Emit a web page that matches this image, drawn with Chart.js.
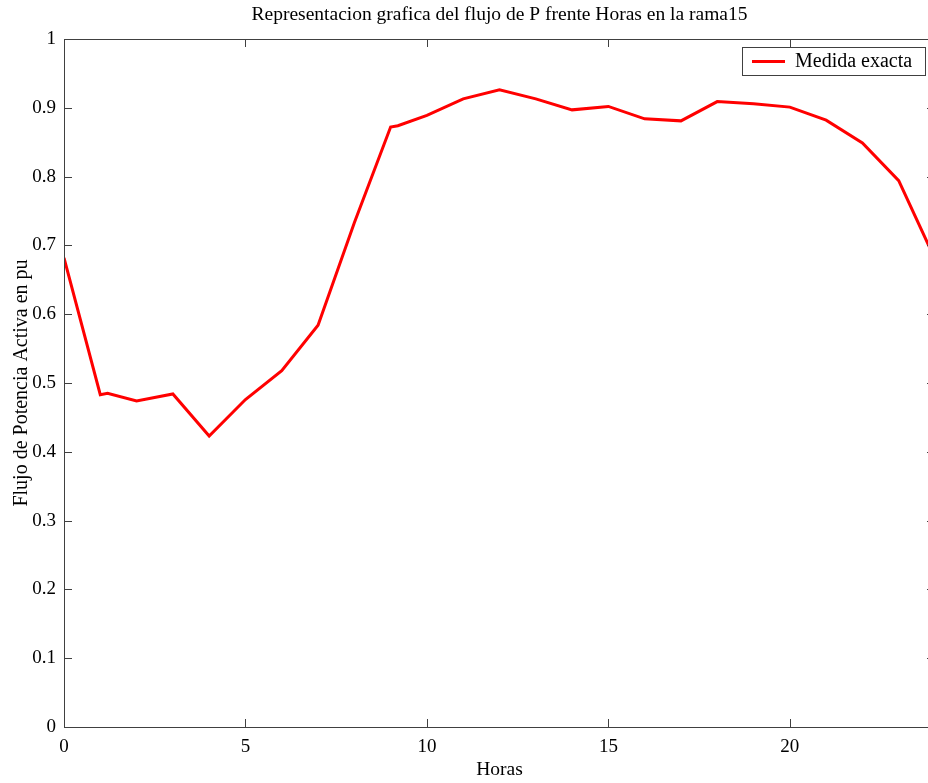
<!DOCTYPE html>
<html>
<head>
<meta charset="utf-8">
<script src="https://cdn.jsdelivr.net/npm/chart.js@4/dist/chart.umd.min.js"></script>
<style>
  html, body { margin: 0; padding: 0; background: #fff; overflow: hidden; width: 928px; height: 783px; }
  #wrap { width: 945px; height: 783px; }
</style>
</head>
<body>
<div id="wrap"><canvas id="c" width="945" height="783"></canvas></div>
<script>
const hours = [0, 1, 1.2, 2, 3, 4, 5, 6, 7, 8, 9, 9.2, 10, 11, 12, 13, 14, 15, 16, 17, 18, 19, 20, 21, 22, 23, 24];
const flujoP = [0.682, 0.483, 0.485, 0.474, 0.484, 0.423, 0.476, 0.518, 0.584, 0.733, 0.872, 0.874, 0.889, 0.913, 0.926, 0.913, 0.897, 0.902, 0.884, 0.881, 0.909, 0.906, 0.901, 0.882, 0.849, 0.794, 0.680];
const xTicks = [0, 5, 10, 15, 20];
const yTicks = [0, 0.1, 0.2, 0.3, 0.4, 0.5, 0.6, 0.7, 0.8, 0.9, 1];
const seriesLabel = 'Medida exacta';
const titleText = 'Representacion grafica del flujo de P frente Horas en la rama15';
const xTitle = 'Horas';
const yTitle = 'Flujo de Potencia Activa en pu';

const FONT = "'Liberation Serif', 'Times New Roman', serif";
const AXIS = '#404040';

const boxPlugin = {
  id: 'matlabBox',
  afterDraw(chart) {
    const ctx = chart.ctx;
    const a = chart.chartArea;
    const xs = chart.scales.x, ys = chart.scales.y;
    ctx.save();
    // title centred over the plot area
    ctx.fillStyle = '#000';
    ctx.font = '19.5px ' + FONT;
    ctx.textAlign = 'center';
    ctx.textBaseline = 'middle';
    ctx.fillText(titleText, (a.left + a.right) / 2, 15);

    ctx.strokeStyle = AXIS;
    ctx.lineWidth = 1;
    ctx.strokeRect(Math.round(a.left) + 0.5, Math.round(a.top) + 0.5, Math.round(a.right - a.left), Math.round(a.bottom - a.top));
    const L = 8;
    ctx.beginPath();
    xTicks.forEach(v => {
      const px = Math.round(xs.getPixelForValue(v)) + 0.5;
      ctx.moveTo(px, a.bottom); ctx.lineTo(px, a.bottom - L);
      ctx.moveTo(px, a.top); ctx.lineTo(px, a.top + L);
    });
    yTicks.forEach(v => {
      const py = Math.round(ys.getPixelForValue(v)) + 0.5;
      ctx.moveTo(a.left, py); ctx.lineTo(a.left + L, py);
      ctx.moveTo(a.right, py); ctx.lineTo(a.right - L, py);
    });
    ctx.stroke();
    // legend
    const ds = chart.data.datasets[0];
    const bx = 742, by = 47, bw = 183, bh = 28;
    ctx.fillStyle = '#fff';
    ctx.fillRect(bx, by, bw, bh);
    ctx.strokeStyle = AXIS;
    ctx.strokeRect(bx + 0.5, by + 0.5, bw, bh);
    ctx.strokeStyle = ds.borderColor;
    ctx.lineWidth = 3;
    ctx.beginPath();
    ctx.moveTo(752, by + bh / 2 + 0.5); ctx.lineTo(785, by + bh / 2 + 0.5);
    ctx.stroke();
    ctx.fillStyle = '#000';
    ctx.font = '20px ' + FONT;
    ctx.textAlign = 'left';
    ctx.textBaseline = 'middle';
    ctx.fillText(ds.label, 795, by + bh / 2 + 1);
    ctx.restore();
  }
};

new Chart(document.getElementById('c'), {
  type: 'line',
  data: {
    datasets: [{
      label: seriesLabel,
      data: hours.map((h, i) => ({ x: h, y: flujoP[i] })),
      borderColor: '#ff0000',
      borderWidth: 3,
      pointRadius: 0,
      tension: 0,
      fill: false
    }]
  },
  options: {
    responsive: false,
    animation: false,
    devicePixelRatio: 1,
    layout: { padding: { left: 0, right: 10, top: 39, bottom: 0 } },
    plugins: {
      legend: { display: false },
      tooltip: { enabled: false },
      title: { display: false }
    },
    scales: {
      x: {
        type: 'linear',
        min: 0, max: 24,
        afterBuildTicks(s) { s.ticks = xTicks.map(v => ({ value: v })); },
        afterFit(s) { s.height = 56; },
        grid: { display: false, drawTicks: false },
        border: { display: false },
        ticks: { color: '#000', font: { family: FONT, size: 19 }, padding: 9, maxRotation: 0,
                 callback: v => String(v) },
        title: { display: true, text: xTitle, color: '#000', font: { family: FONT, size: 19.5 }, padding: { top: 0, bottom: 1 } }
      },
      y: {
        type: 'linear',
        min: 0, max: 1,
        afterBuildTicks(s) { s.ticks = yTicks.map(v => ({ value: v })); },
        afterFit(s) { s.width = 64; },
        grid: { display: false, drawTicks: false },
        border: { display: false },
        ticks: { color: '#000', font: { family: FONT, size: 19 }, padding: 8,
                 callback: v => String(Number(v.toFixed(1))) },
        title: { display: true, text: yTitle, color: '#000', font: { family: FONT, size: 20 }, padding: { top: 10, bottom: 0 } }
      }
    }
  },
  plugins: [boxPlugin]
});
</script>
</body>
</html>
